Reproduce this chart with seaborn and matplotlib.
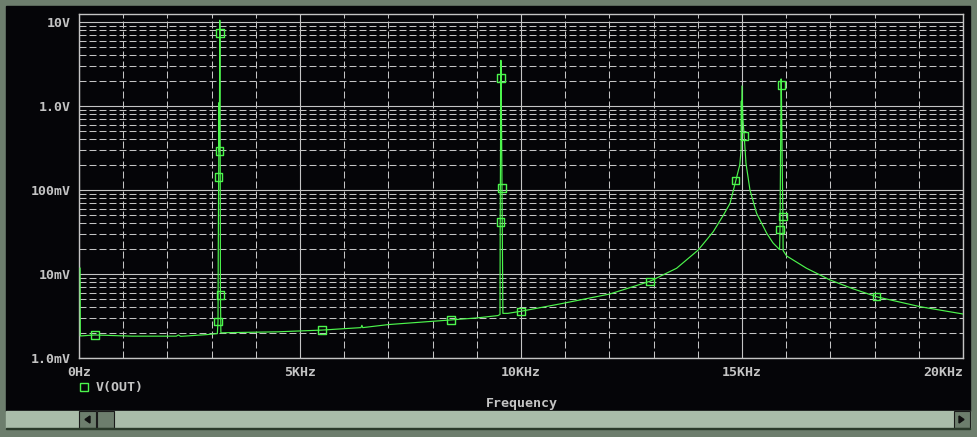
import numpy as np
import pandas as pd
import matplotlib
matplotlib.use('Agg')
import matplotlib.pyplot as plt
from matplotlib.patches import Rectangle, Polygon
from matplotlib.lines import Line2D
from matplotlib.ticker import FixedLocator, NullFormatter
import seaborn as sns

# ── Trace data (kHz, volts) ───────────────────────────────────────
freq_khz = [0.025, 0.03, 0.36, 1.2, 2.2, 2.25, 2.3, 2.9, 3.13,
            3.145, 3.15, 3.16, 3.17, 3.175, 3.185, 3.19, 3.20, 3.21,
            3.3, 4.5, 5.5, 6.38, 6.40, 6.42, 7.0, 8.42, 9.0, 9.48, 9.525,
            9.53, 9.545, 9.55, 9.56, 9.57, 9.59, 9.7, 10.0,
            10.88, 12.01, 12.92, 13.52, 14.01, 14.35, 14.58, 14.73, 14.86,
            14.95, 14.98, 14.985, 14.99, 15.0, 15.02, 15.05, 15.09, 15.18,
            15.33, 15.56, 15.70, 15.85,
            15.86, 15.885, 15.89, 15.90, 15.91, 15.925, 15.93,
            16.01, 16.46, 16.99, 17.5, 18.05, 19.03, 20.0]
vout = [0.0118, 0.00183, 0.00188, 0.00182, 0.00182, 0.00188, 0.00181, 0.0019, 0.00195,
        0.0027, 0.016, 0.143, 1.1, 0.29, 10.5, 7.4, 0.0056, 0.00199,
        0.0020, 0.00205, 0.00215, 0.0023, 0.00245, 0.0023, 0.0025, 0.00284, 0.0030, 0.0032, 0.0033,
        0.0416, 3.5, 2.15, 0.59, 0.106, 0.0034, 0.0034, 0.0036,
        0.0044, 0.00578, 0.0082, 0.0117, 0.0193, 0.0319, 0.0503, 0.0695, 0.129,
        0.20, 0.30, 1.14, 0.5, 1.73, 0.7, 0.44, 0.208, 0.10,
        0.0528, 0.0305, 0.0235, 0.0195,
        0.034, 2.1, 1.78, 0.64, 0.2, 0.048, 0.019,
        0.0164, 0.0117, 0.0085, 0.0067, 0.00535, 0.00408, 0.00334]

# marker squares (subset of the sweep points)
marker_khz = [0.36, 3.145, 3.16, 3.175, 3.19, 3.20, 5.5, 8.42, 9.53, 9.55,
              9.57, 10.0, 12.92, 14.86, 15.05, 15.86, 15.89, 15.925, 18.05]
marker_v = [0.00188, 0.0027, 0.143, 0.29, 7.4, 0.0056, 0.00215, 0.00284, 0.0416, 2.15,
            0.106, 0.0036, 0.0082, 0.129, 0.44, 0.034, 1.78, 0.048, 0.00535]

x_ticks_khz = [0, 5, 10, 15, 20]
x_labels = ['0Hz', '5KHz', '10KHz', '15KHz', '20KHz']
y_ticks_v = [1e-3, 1e-2, 1e-1, 1, 10]
y_labels = ['1.0mV', '10mV', '100mV', '1.0V', '10V']

TRACE = '#4cf54c'
GRID = '#c4c4c4'
BG = '#050508'
FRAME = '#6d7e6d'
BAR = '#a9bca9'

sns.set_style('dark', rc={'axes.facecolor': BG, 'axes.edgecolor': GRID,
                          'xtick.color': GRID, 'ytick.color': GRID,
                          'text.color': GRID})
plt.rcParams['font.family'] = ['DejaVu Sans Mono', 'DejaVu Sans']

W, H = 978, 437
fig = plt.figure(figsize=(W / 100, H / 100), dpi=100, facecolor=FRAME)


def box(x0, y0, w, h, z=1, **kw):
    # rectangle given in pixel coords from the top-left corner
    fig.patches.append(Rectangle((x0 / W, 1 - (y0 + h) / H), w / W, h / H,
                                 transform=fig.transFigure, zorder=z, **kw))


# ── Window chrome ─────────────────────────────────────────────────
box(6, 6, 964, 405, z=-2, color=BG)
box(6, 411, 964, 17, z=-2, color=BAR)
box(79, 411, 17, 17, facecolor=FRAME, edgecolor='#1a1a1a', lw=0.8)
box(97, 411, 17, 17, facecolor=FRAME, edgecolor='#1a1a1a', lw=0.8)
box(954, 411, 16, 17, facecolor=FRAME, edgecolor='#1a1a1a', lw=0.8)
box(6, 428, 964, 1, color='#2a3a2a')
for pts in ([(85, 419.5), (90, 416), (90, 423)], [(964, 419.5), (959, 416), (959, 423)]):
    fig.patches.append(Polygon([(x / W, 1 - y / H) for x, y in pts], closed=True,
                               transform=fig.transFigure, color='#101010', zorder=2))

# ── Plot area ─────────────────────────────────────────────────────
ax = fig.add_axes([79 / W, 1 - 358 / H, 884 / W, 344 / H])
ax.set_zorder(5)
ax.set_facecolor(BG)

df = pd.DataFrame({'freq': np.array(freq_khz) * 1000, 'v': vout})
sns.lineplot(data=df, x='freq', y='v', ax=ax, color=TRACE, lw=0.85,
             sort=False, estimator=None, zorder=3)

mk = pd.DataFrame({'freq': np.array(marker_khz) * 1000, 'v': marker_v})
sns.scatterplot(data=mk, x='freq', y='v', ax=ax, marker='s', s=28,
                color=TRACE, linewidth=1.0, zorder=4)
for coll in ax.collections:
    coll.set_facecolor('none')
    coll.set_edgecolor(TRACE)

ax.set_yscale('log')
ax.set_xlim(0, 20000)
ax.set_ylim(1e-3, 10 ** 1.095)

ax.xaxis.set_major_locator(FixedLocator([k * 1000 for k in x_ticks_khz]))
ax.set_xticklabels(x_labels)
ax.xaxis.set_minor_locator(FixedLocator([k * 1000 for k in range(21) if k % 5]))
ax.yaxis.set_major_locator(FixedLocator(y_ticks_v))
ax.set_yticklabels(y_labels)
ax.yaxis.set_minor_locator(FixedLocator([m * 10.0 ** e for e in range(-3, 2) for m in range(2, 10)]))
ax.yaxis.set_minor_formatter(NullFormatter())

ax.tick_params(which='major', length=3, width=1, color=GRID, direction='out',
               labelsize=9.5, labelcolor=GRID, pad=3)
ax.tick_params(which='minor', length=0)
for lab in ax.get_xticklabels() + ax.get_yticklabels():
    lab.set_fontweight('bold')
ax.get_xticklabels()[-1].set_horizontalalignment('right')

ax.grid(which='major', color=GRID, lw=0.8, ls='-')
ax.grid(which='minor', color=GRID, lw=0.75, ls=(0, (6.7, 2.9)))
for s in ax.spines.values():
    s.set_color(GRID)
    s.set_linewidth(1)

ax.set_xlabel('')
ax.set_ylabel('')

# ── Legend and axis title ─────────────────────────────────────────
fig.add_artist(Line2D([84 / W], [1 - 387 / H], marker='s', ms=5.5, mfc='none',
                      mec=TRACE, mew=1.0, transform=fig.transFigure))
fig.text(96 / W, 1 - 387 / H, 'V(OUT)', fontsize=9.5, fontweight='bold',
         color=GRID, va='center', ha='left')
fig.text(522 / W, 1 - 403 / H, 'Frequency', fontsize=9.5, fontweight='bold',
         color=GRID, va='center', ha='center')

fig.savefig('out.png', dpi=100, facecolor=FRAME)
